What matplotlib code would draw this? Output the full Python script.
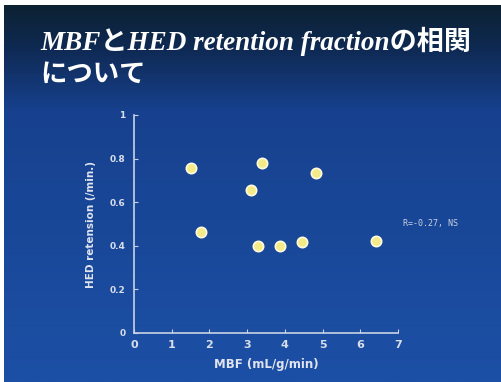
import matplotlib.pyplot as plt
import numpy as np
from matplotlib.colors import LinearSegmentedColormap

mbf = [1.52, 1.77, 3.10, 3.40, 3.29, 3.87, 4.46, 4.82, 6.42]
hed = [0.757, 0.462, 0.654, 0.778, 0.398, 0.398, 0.418, 0.734, 0.420]
x_ticks = [0, 1, 2, 3, 4, 5, 6, 7]
y_ticks = [0, 0.2, 0.4, 0.6, 0.8, 1]
y_tick_labels = ["0", "0.2", "0.4", "0.6", "0.8", "1"]

fig = plt.figure(figsize=(5.01, 3.82), dpi=100)
fig.patch.set_facecolor('white')

# slide background: dark navy at the top fading to blue
bg = fig.add_axes([4 / 501, 0, 497 / 501, 377 / 382])
bg.set_axis_off()
cmap = LinearSegmentedColormap.from_list(
    'slide', [(0.0, '#0c2232'), (0.12, '#0f2a55'), (0.28, '#17418e'), (1.0, '#1c50a6')])
grad = np.linspace(0, 1, 256).reshape(-1, 1)
bg.imshow(grad, aspect='auto', cmap=cmap, extent=[0, 1, 0, 1], origin='upper')
bg.set_xlim(0, 1)
bg.set_ylim(0, 1)

title_font = ['Liberation Serif', 'Noto Sans CJK JP']
fig.text(40 / 501, 1 - 50 / 382, 'MBFとHED retention fractionの相関',
         family=title_font, style='italic', weight='bold', fontsize=19.5,
         color='white', va='baseline', ha='left')
fig.text(40 / 501, 1 - 82 / 382, 'について',
         family=['Noto Sans CJK JP'], weight='bold', fontsize=19,
         color='white', va='baseline', ha='left')

ax = fig.add_axes([134 / 501, 1 - 333 / 382, 264 / 501, 218 / 382])
ax.patch.set_alpha(0)
ax.scatter(mbf, hed, s=55, color='#f4ea88', edgecolors='#fffbe0', linewidths=1.2, zorder=3)
ax.set_xlim(0, 7)
ax.set_ylim(0, 1)
ax.set_xticks(x_ticks)
ax.set_yticks(y_ticks)
ax.set_yticklabels(y_tick_labels)
for s in ['top', 'right']:
    ax.spines[s].set_visible(False)
for s in ['left', 'bottom']:
    ax.spines[s].set_color('#c8d2e6')
    ax.spines[s].set_linewidth(1.2)
ax.tick_params(direction='in', length=3, color='#c8d2e6', labelcolor='#d8deea')
ax.tick_params(axis='x', labelsize=8, pad=5)
ax.tick_params(axis='y', labelsize=6.5, pad=6)
for lab in ax.get_xticklabels() + ax.get_yticklabels():
    lab.set_fontweight('bold')
ax.set_xlabel('MBF (mL/g/min)', fontsize=8.5, fontweight='bold', color='#e0e4ee', labelpad=6)
ax.set_ylabel('HED retension (/min.)', fontsize=7.5, fontweight='bold', color='#e0e4ee', labelpad=10)

fig.text(403 / 501, 1 - 224 / 382, 'R=-0.27, NS', family='DejaVu Sans Mono',
         fontsize=6, color='#c8d0e0', va='center', ha='left')

plt.savefig('out.png', dpi=100)
